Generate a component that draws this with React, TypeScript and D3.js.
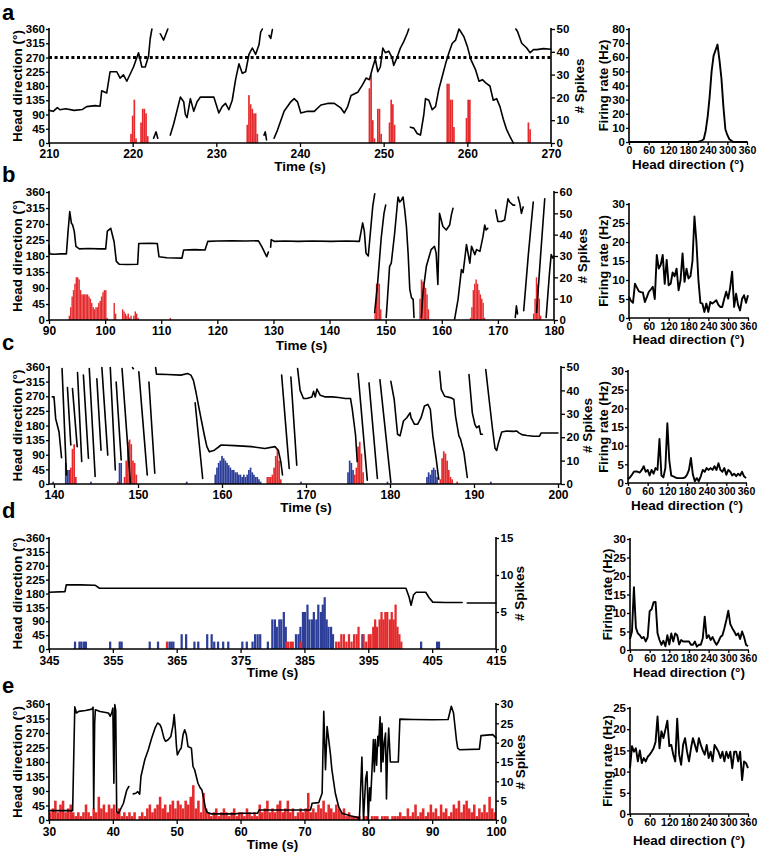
import React, { useEffect, useRef } from "react";
import * as d3 from "d3";

type P = [number, number] | null;

const FONT = "'Liberation Sans', Arial, Helvetica, sans-serif";
const RED = "#e42a2c";
const BLUE = "#2d3e99";

const hdTicks = [0, 45, 90, 135, 180, 225, 270, 315, 360];
const tuningDegTicks = [0, 60, 120, 180, 240, 300, 360];
const tuningStep = 6;

// ---------- Panel a ----------
const hdA: P[] = [
  [210, 103], [210.5, 100], [211, 112], [211.3, 105], [212, 108], [213, 103], [214, 106], [214.5, 115], [215.5, 118], [216.1, 116],
  [216.3, 165], [216.9, 158], [217.3, 225], [218.1, 225], [218.5, 205], [218.9, 215], [219.3, 195], [220.1, 240], [220.7, 285],
  [221.1, 240], [221.5, 240], [221.9, 275], [222.1, 330], [222.3, 360], null,
  [222.5, 15], [222.8, 35], [223, 15], null,
  [223.3, 345], [223.7, 325], [224.2, 360], null,
  [224.5, 25], [224.9, 60], [225.7, 145], [226.1, 130], [226.3, 90], [226.5, 80], [226.9, 140], [227.3, 100], [227.7, 130], [228.1, 145],
  [228.9, 145], [229.7, 145], [230.3, 95], [230.7, 115], [231.1, 125], [231.5, 105], [231.9, 135], [232.3, 200], [232.7, 250], [233.1, 220],
  [233.5, 225], [233.9, 280], [234.3, 300], [234.7, 280], [235.1, 310], [235.3, 350], [235.5, 360], null,
  [235.7, 25], [235.85, 35], [236, 10], null,
  [236.3, 340], [236.5, 330], [236.7, 358], null,
  [236.9, 15], [237.3, 40], [238.1, 100], [238.9, 130], [239.3, 140], [239.7, 130], [240.1, 95], [240.9, 100], [241.7, 100], [242.5, 120],
  [243.3, 125], [244.1, 125], [244.9, 110], [245.3, 95], [245.7, 115], [246.1, 150], [246.9, 160], [247.5, 185], [247.9, 205], [248.3, 200],
  [248.7, 240], [249.0, 265], [249.3, 225], [249.6, 240], [249.9, 300], [250.2, 285], [250.6, 290], [251, 270], [251.2, 245], [251.6, 270],
  [252, 300], [252.4, 320], [252.8, 345], [253, 360], null,
  [253.2, 50], [253.6, 47], [254, 30], [254.4, 25], [254.8, 90], [255, 140], [255.4, 135], [255.8, 105], [256.2, 115], [256.6, 170],
  [257, 210], [257.4, 250], [257.8, 285], [258.2, 315], [258.6, 325], [259, 360], [259.2, 352], [259.6, 335], [260, 305], [260.4, 265],
  [261, 230], [261.4, 195], [261.8, 200], [262.2, 190], [262.7, 180], [263.1, 135], [263.5, 140], [263.9, 115], [264.3, 75], [264.7, 42],
  [265.1, 20], [265.5, 0], null,
  [265.8, 360], [266, 352], [266.5, 315], [267.1, 300], [267.5, 285], [267.9, 295], [268.3, 295], [269.1, 298], [270, 296],
];
const spikesA: [number, number][] = [
  [219.7, 4], [219.9, 12], [220.1, 19], [220.3, 2], [220.9, 9], [221.1, 15], [221.3, 15], [221.5, 13], [221.7, 3],
  [233.6, 8], [233.8, 21], [234.0, 17], [234.2, 15], [234.4, 13], [234.6, 13], [234.8, 4],
  [248.2, 24], [248.4, 30], [248.6, 10], [248.8, 2], [249.2, 15], [249.4, 15], [249.6, 4],
  [250.6, 9], [250.8, 19], [251.0, 17], [251.2, 8],
  [257.5, 26], [257.7, 26], [257.9, 19], [258.1, 19], [258.3, 7],
  [259.8, 11], [260.0, 19], [260.2, 19], [267.2, 9], [267.4, 6],
];
const tuningA = [
  0, 0, 0, 0, 0, 0, 0, 0, 0, 0, 0, 0, 0, 0, 0, 0, 0, 0, 0, 0, 0, 0, 0, 0, 0, 0, 0, 0, 0, 0, 0, 0, 0, 0, 0, 0,
  0.5, 1, 2, 8, 18, 32, 50, 61, 65, 69, 58, 45, 25, 9, 5, 2, 1, 0, 0, 0, 0, 0, 0, 0, 0,
];

// ---------- Panel b ----------
const hdB: P[] = [
  [90, 210], [90.1, 186], [91, 185], [92, 186], [93.1, 186], [93.4, 250], [93.7, 305], [94, 272], [94.2, 268], [94.5, 250], [94.8, 207],
  [95.4, 200], [97, 201], [99, 200], [100.1, 200], [100.4, 250], [101, 258], [101.6, 220], [102, 165], [102.5, 157], [104, 156],
  [105.8, 157], [106, 215], [108, 216], [109.3, 215], [109.6, 178], [111, 175], [113.7, 174], [114, 197], [116, 198], [117.8, 197],
  [118.3, 221], [120, 222], [122.6, 223], [125, 222], [127.3, 223], [127.9, 207], [128.8, 178], [129.1, 191], null,
  [129.5, 205], [129.6, 226], [130.2, 221], [132, 222], [134.4, 221], [137, 222], [140.3, 221], [143, 222], [145.3, 221],
  [145.9, 273], [146.2, 249], [146.5, 188], [146.9, 180], [147.3, 250], [147.7, 320], [148.05, 355], null,
  [148.04, 21], [148.6, 110], [149.2, 230], [149.7, 300], [150, 323], null,
  [150.1, 7], [150.7, 151], [151, 160], [151.6, 244], [152.2, 346], [152.5, 332], [152.8, 337], [153.1, 346], [153.4, 309], [153.7, 263],
  [154, 188], [154.3, 86], [154.6, 63], [154.9, 58], [155.05, 7], null,
  [156.36, 7], [156.65, 77], [157.25, 151], [158.1, 198], [158.7, 207], [159, 188], [159.3, 100], [159.6, 300], [160.2, 263], [160.8, 253],
  [161.4, 267], [161.7, 295], [162, 314], null,
  [162.3, 3], [162.9, 58], [163.5, 142], [163.8, 133], [164.4, 212], [165, 160], [165.3, 207], [165.9, 184], [166.2, 198], [166.8, 193],
  [167.35, 235], [167.65, 267], [167.9, 253], [168.2, 258], null,
  [169.6, 309], [170, 277], [170.6, 277], [171.2, 281], [171.8, 341], [172.1, 332], [172.7, 323], [173, 323], null,
  [173.1, 7], [173.3, 40], [173.5, 17], null,
  [173.6, 346], [173.9, 328], [174.2, 300], [174.5, 318], null,
  [174.6, 26], [175.4, 179], [176.3, 332], null,
  [176.9, 21], [177.6, 179], [178.35, 341], null,
  [178.6, 7], [179.2, 133], [179.5, 184], [179.8, 174], [180, 179],
];
const spikesB: [number, number][] = [
  [93.5, 2], [93.75, 6], [94.0, 11], [94.25, 14], [94.5, 17], [94.75, 20], [95.0, 20], [95.25, 19], [95.5, 14], [95.75, 12],
  [96.0, 12], [96.25, 12], [96.5, 12], [96.75, 12], [97.0, 11], [97.25, 10], [97.5, 8], [97.75, 6], [98.0, 5], [98.25, 6],
  [98.5, 6], [98.75, 8], [99.0, 9], [99.25, 11], [99.5, 13], [99.75, 14], [100.0, 14], [100.25, 1],
  [101.5, 8], [101.75, 3], [103.0, 5], [103.25, 4], [103.5, 3], [103.75, 2], [104.0, 3], [104.25, 1], [104.5, 2],
  [105.0, 2], [105.25, 4], [105.5, 3], [105.75, 1], [111.5, 1],
  [148.0, 4], [148.25, 17], [148.5, 17], [148.75, 17], [149.0, 5],
  [156.0, 10], [156.25, 19], [156.5, 18], [156.75, 16], [157.0, 15], [157.25, 12], [157.5, 5],
  [165.0, 1], [165.25, 6], [165.5, 14], [165.75, 17], [166.0, 19], [166.25, 17], [166.5, 14], [166.75, 12], [167.0, 10], [167.25, 8], [167.5, 1],
  [176.25, 3], [176.5, 10], [176.75, 20], [177.0, 17], [177.25, 10], [177.5, 2],
];
const tuningB = [
  5.6, 4.5, 4, 9, 8, 7, 6.8, 6.7, 4.2, 5.5, 6.9, 7.5, 8.2, 5, 16.6, 13, 14, 16.6, 9, 15.3,
  8.6, 9, 12, 11, 13, 7.3, 10, 17, 9.5, 13, 10.4, 11, 15, 26.7, 20, 10, 4, 3.8, 1.6, 3.8,
  1.6, 4.2, 3.8, 4.2, 4.7, 3.5, 2.9, 2.9, 5, 6.9, 5.1, 8, 12.2, 2.9, 6.4, 3.4, 2, 5, 6, 4, 6,
];

// ---------- Panel c ----------
const hdC: P[] = [
  [139.8, 268], [140.0, 268], [140.2, 201], [140.4, 181], [140.6, 160], [140.75, 120], [140.9, 81], null,
  [140.96, 355], [141.48, 28], null,
  [141.6, 297], [142, 120], null,
  [142.2, 294], [142.76, 115], null,
  [142.8, 343], [143.3, 69], null,
  [143.5, 335], [144.1, 79], null,
  [144.2, 355], [144.9, 23], null,
  [145.1, 324], [145.6, 104], null,
  [145.7, 358], [146.4, 89], null,
  [146.7, 358], [147.3, 43], null,
  [147.4, 314], [148, 74], null,
  [148.1, 355], [149.1, 2], null,
  [149.35, 358], [149.45, 355], null,
  [150.1, 345], [151.1, 28], null,
  [151.3, 314], [152, 33], null,
  [152.1, 358], [152.2, 338], [153.5, 337], [155.1, 335], [155.9, 340], [156.3, 335], [156.6, 319], [156.9, 283], [157.2, 242],
  [157.5, 202], [157.9, 150], [158.2, 115], [158.5, 99], [159.1, 104], [159.9, 120], [161.5, 118], [163.5, 115], [165.1, 109],
  [166.3, 115], [166.7, 104], [167, 69], [167.2, 28], null,
  [156.8, 250], [157.7, 17], null,
  [167.1, 335], [168, 48], null,
  [168.2, 329], [168.9, 58], null,
  [169, 355], [169.3, 288], [169.7, 263], [170.1, 263], [170.7, 268], [170.9, 285], [171.1, 268], [171.3, 292], [171.7, 273],
  [172.3, 268], [173.1, 268], [173.9, 266], [174.7, 263], [175.3, 263], [175.5, 232], [175.7, 191], [175.9, 150], [176.1, 69], null,
  [176.2, 340], [177.3, 12], null,
  [177.5, 311], [178.5, 17], null,
  [178.8, 321], [180.1, 5], null,
  [180.1, 316], [180.5, 260], [180.9, 153], [181.2, 148], [181.6, 194], [182, 204], [182.4, 219], [182.5, 204], [182.9, 184],
  [183.3, 184], [183.7, 204], [184.1, 240], [184.5, 245], [184.8, 230], [185.1, 148], [185.5, 77], [185.8, 15], null,
  [185.9, 347], [186.1, 291], [186.5, 270], [187.3, 265], [187.6, 260], [187.8, 209], [188.2, 148], [188.4, 138], [188.8, 97], [189.2, 20], null,
  [189.4, 337], [189.8, 219], [190.1, 184], [190.3, 173], [190.6, 179], [190.8, 153], [191, 153], null,
  [191.4, 352], [191.8, 260], [192.2, 170], [192.5, 110], [192.7, 103], [192.9, 125], [193.3, 160], [193.9, 163], [194.7, 162],
  [195.1, 163], [195.3, 158], [195.7, 152], [196.3, 149], [197.1, 147], [197.8, 147], [198, 157], [198.6, 157], [200, 157],
];
const spikesCBlue: [number, number][] = [
  [139.8, 1], [141.3, 9], [141.5, 6], [141.7, 6], [144.3, 1], [147.7, 9], [147.9, 9], [155.7, 1],
  [159.1, 4], [159.3, 7], [159.5, 9], [159.7, 10], [159.9, 12], [160.1, 11], [160.3, 10], [160.5, 9], [160.7, 8], [160.9, 7],
  [161.1, 6], [161.3, 6], [161.5, 5], [161.7, 5], [161.9, 4], [162.1, 4], [162.3, 3], [162.5, 4], [162.7, 3], [162.9, 4],
  [163.1, 6], [163.3, 7], [163.5, 5], [163.7, 4], [163.9, 3], [164.1, 3], [164.3, 2], [164.5, 1],
  [169.3, 1], [174.9, 5], [175.1, 10], [175.3, 9], [175.5, 6], [179.6, 1],
  [184.3, 3], [184.5, 5], [184.7, 4], [184.9, 6], [185.1, 7], [185.3, 6], [185.5, 3], [191.9, 1],
];
const spikesCRed: [number, number][] = [
  [141.9, 7], [142.1, 15], [142.3, 17], [142.5, 3], [147.5, 1],
  [148.3, 3], [148.5, 10], [148.7, 18], [148.9, 19], [149.1, 17], [149.3, 10], [149.5, 9], [149.7, 4],
  [165.3, 3], [165.5, 3], [165.7, 3], [165.9, 4], [166.1, 7], [166.3, 12], [166.5, 15], [166.7, 10], [166.9, 2],
  [175.7, 4], [175.9, 7], [176.1, 16], [176.3, 18], [176.5, 13], [176.7, 5],
  [185.9, 2], [186.1, 11], [186.3, 14], [186.5, 13], [186.7, 10], [186.9, 6], [187.1, 3], [187.3, 2], [187.9, 1],
];
const tuningC = [
  1, 1.5, 2.2, 3, 3.1, 3, 2.8, 3.5, 4.5, 3, 3.5, 2, 3.5, 2.5, 4, 3.5, 11.8, 2, 1.5, 4,
  16, 6, 2, 1.8, 1.5, 1.3, 1.3, 1.3, 1.3, 1.5, 2.2, 3.5, 6.7, 2.2, 0.5, 1.3, 0.5, 1.8, 3.5, 3,
  4, 3.5, 4, 3.5, 4.5, 3.5, 5.3, 3.5, 3, 4, 2.2, 3.5, 3, 2, 2.5, 1.8, 2.5, 2, 3, 1.8, 1.3,
];

// ---------- Panel d ----------
const hdD: P[] = [
  [345, 184], [347.5, 186], [347.7, 208], [350, 208], [352.2, 207], [352.9, 197], [360, 197], [370, 197], [380, 197], [390, 197],
  [400.9, 197], [401.4, 168], [401.7, 142], [402.1, 176], [402.5, 184], [404, 184], [404.5, 167], [405.1, 152], [407, 151],
  [409.7, 151], null, [410.5, 149], [413, 149], [415, 149],
];
const spikesDBlue: [number, number][] = [
  [348.9, 1], [349.6, 1], [349.9, 1], [350.3, 1], [350.6, 1], [354.4, 1], [355.9, 1], [356.2, 1], [360.6, 1], [361.9, 1],
  [363.7, 1], [364.0, 1], [364.3, 1], [365.6, 2], [366.3, 2], [367.6, 1], [368.2, 1], [369.6, 2], [370.3, 2], [370.7, 1],
  [371.3, 1], [372.1, 1], [372.9, 1], [375.1, 1], [375.8, 1], [376.7, 1], [377.1, 2], [377.5, 2], [377.9, 2], [379.1, 1],
  [379.8, 4], [380.2, 4], [380.5, 3], [380.9, 4], [381.2, 4], [381.6, 5], [381.9, 3], [383.5, 2], [383.9, 2], [384.2, 3],
  [384.6, 5], [384.9, 5], [385.3, 6], [385.6, 4], [386.0, 4], [386.3, 5], [386.7, 4], [387.0, 6], [387.4, 5], [387.7, 6],
  [388.0, 7], [388.3, 4], [388.6, 3], [389.0, 3], [389.3, 2], [393.9, 2], [403.1, 1], [405.6, 1], [405.9, 1],
];
const spikesDRed: [number, number][] = [
  [363.3, 1], [382.0, 1], [382.3, 1], [382.7, 1], [383.0, 1], [384.3, 1], [389.8, 1], [390.2, 1], [390.6, 2], [391.0, 2],
  [391.4, 1], [391.8, 2], [392.2, 1], [392.6, 2], [393.0, 2], [393.3, 3], [394.1, 2], [394.5, 1], [394.9, 2], [395.2, 2],
  [395.6, 3], [395.9, 4], [396.2, 3], [396.6, 4], [396.9, 5], [397.2, 4], [397.5, 5], [397.8, 5], [398.2, 4], [398.5, 5],
  [398.8, 4], [399.1, 6], [399.4, 3], [399.7, 2], [400.0, 1],
];
const tuningD = [
  3, 5, 17, 6, 4.5, 4, 3.2, 3.5, 2.3, 3.5, 10.5, 11, 12.9, 13, 4.5, 2.7, 1.4, 2.5, 1, 4,
  1.5, 4.5, 2.3, 4.5, 4, 1.5, 2.7, 2.3, 2.3, 2.3, 2.3, 1.4, 1.4, 2.3, 0.9, 1.4, 1.4, 3.2, 9, 3.2,
  4, 2.7, 3.5, 2.3, 1.4, 2.3, 3.5, 4, 5.9, 8.1, 10.6, 7, 5.9, 5, 4, 4.5, 3, 5, 3.5, 1.4, 1,
];

// ---------- Panel e ----------
const hdE: P[] = [
  [30, 29], [33.7, 29], [34.04, 351], [34.3, 332], [34.67, 337], [35.7, 340], [36.74, 344], [36.9, 350], [37, 36], [37.15, 300],
  [37.26, 342], [38, 337], [39.3, 332], [39.6, 322], [39.85, 335], [40, 347], [40.16, 114], [40.3, 358], [40.45, 340], [40.6, 26],
  [40.9, 21], [41.15, 31], [41.66, 52], [42.18, 93], [42.5, 104], null,
  [43.2, 81], [43.6, 83], [43.9, 88], [44.2, 80], [44.4, 135], [45, 187], [45.55, 218], [46.07, 254], [46.6, 285], [47, 301],
  [47.37, 296], [47.6, 286], [48, 254], [48.25, 244], [48.66, 249], [49.08, 259], [49.44, 296], [49.6, 327], [49.8, 280], [49.96, 228],
  [50.1, 202], [50.5, 218], [50.7, 223], [51, 265], [51.25, 280], [51.5, 265], [51.77, 228], [52.3, 223], [52.55, 166], [52.8, 156],
  [53.07, 135], [53.33, 114], [53.7, 99], [53.95, 93], [54.26, 62], [54.5, 36], [54.8, 23], [55.4, 19], [59, 19], [60.1, 21],
  [62.66, 21], [62.9, 31], [66, 31], [70.95, 31], [71.2, 52], [72.25, 54], [72.77, 83], [73.03, 337], [73.3, 156], [73.55, 290],
  [74.06, 207], [74.3, 156], [74.84, 83], [75.36, 41], [75.88, 21], [77.17, 13], [78.4, 8], [78.6, 0], [79.0, 195], [79.25, 0],
  [79.6, 130], [79.8, 150], [80.0, 0], [80.2, 100], [80.35, 60], [80.55, 140], [80.8, 250], [80.95, 150], [81.1, 250], [81.3, 170],
  [81.5, 260], [81.6, 230], [81.85, 320], [82.0, 150], [82.15, 300], [82.3, 180], [82.5, 240], [82.7, 270], [82.85, 65], [83.0, 200],
  [83.2, 285], [83.45, 180], [84.7, 180], [84.95, 313], [87, 312], [90, 311], [92.5, 312], [93, 353], [93.35, 332], [93.8, 249],
  [94, 223], [94.3, 218], [97.4, 220], [97.65, 262], [99.5, 265], [100, 255],
];
const spikesEStart = 30;
const spikesEBin = 0.4;
const spikesECounts = [
  2, 3, 5, 2, 4, 5, 2, 3, 4, 2, 1, 2, 1, 2, 4, 2, 1, 3, 2, 6,
  3, 4, 2, 4, 3, 4, 2, 3, 1, 2, 1, 2, 1, 2, 0, 1, 2, 1, 3, 4,
  2, 3, 4, 6, 3, 4, 2, 4, 5, 3, 5, 4, 3, 5, 4, 6, 9, 3, 5, 2,
  7, 3, 2, 1, 2, 3, 1, 2, 3, 2, 1, 2, 3, 1, 2, 2, 1, 3, 2, 1,
  2, 1, 4, 2, 3, 5, 2, 3, 2, 4, 5, 2, 3, 5, 2, 3, 1, 2, 3, 2,
  3, 7, 2, 3, 2, 4, 3, 5, 2, 4, 3, 2, 4, 3, 2, 3, 1, 2, 1, 1,
  1, 1, 0, 1, 1, 0, 1, 1, 1, 0, 1, 1, 1, 0, 1, 1, 1, 2, 1, 1,
  3, 1, 2, 4, 1, 2, 3, 1, 2, 4, 2, 3, 1, 4, 2, 3, 1, 2, 4, 3,
  5, 2, 4, 5, 3, 2, 4, 1, 3, 2, 4, 2, 6, 3, 2,
];
const tuningE = [
  10.8, 16, 14.7, 15.5, 12.4, 15, 12, 13.2, 12.4, 13.5, 14, 14.7, 15.5, 17, 23, 15.5, 19.5, 17.9, 19.9, 22,
  16, 16.3, 14, 12.4, 22.5, 14, 11.6, 16.3, 17.9, 14.7, 12.4, 15.5, 17.9, 16.3, 14.7, 17.9, 16.3, 15, 14, 16.3,
  13.2, 14.7, 12.4, 16.3, 15.5, 14.7, 13.2, 14.7, 12.4, 14.7, 13.2, 14.7, 10.8, 14.7, 14.7, 12.4, 14.7, 8, 12.4, 12, 10.8,
];

const spikesE: [number, number][] = spikesECounts.map((c, i) => [spikesEStart + i * spikesEBin, c]);

const panels = [
  {
    letter: "a", letterY: 20, hd: hdA, red: spikesA, blue: null as any, binW: 0.2,
    tDomain: [210, 270], tTicks: [210, 220, 230, 240, 250, 260, 270], xRange: [49, 551], axX: [49, 551],
    yTop: 29, yBot: 143, spikeMax: 50, spikeTicks: [0, 10, 20, 30, 40, 50], timeY: 171, spikesTitleX: 584, dotted: 270,
    tuning: tuningA, tMax: 80, tYTicks: [0, 10, 20, 30, 40, 50, 60, 70, 80], tX: [629, 747], tY: [29, 142], tTitleY: 169, firingX: 608,
    rTick: 4, bPad: 2.5,
  },
  {
    letter: "b", letterY: 182, hd: hdB, red: spikesB, blue: null as any, binW: 0.25,
    tDomain: [90, 180], tTicks: [90, 100, 110, 120, 130, 140, 150, 160, 170, 180], xRange: [49, 554], axX: [49, 554],
    yTop: 192, yBot: 320, spikeMax: 60, spikeTicks: [0, 10, 20, 30, 40, 50, 60], timeY: 350, spikesTitleX: 587, dotted: null as any,
    tuning: tuningB, tMax: 30, tYTicks: [0, 5, 10, 15, 20, 25, 30], tX: [629, 748], tY: [204, 318], tTitleY: 344, firingX: 608,
    rTick: 4, bPad: 2.5,
  },
  {
    letter: "c", letterY: 350, hd: hdC, red: spikesCRed, blue: spikesCBlue, binW: 0.2,
    tDomain: [140, 200], tTicks: [140, 150, 160, 170, 180, 190, 200], xRange: [54, 558], axX: [49, 561],
    yTop: 367, yBot: 484, spikeMax: 50, spikeTicks: [0, 10, 20, 30, 40, 50], timeY: 512, spikesTitleX: 592, dotted: null as any,
    tuning: tuningC, tMax: 30, tYTicks: [0, 5, 10, 15, 20, 25, 30], tX: [628, 746], tY: [371, 483], tTitleY: 510, firingX: 608,
    rTick: 4, bPad: 2.5,
  },
  {
    letter: "d", letterY: 518, hd: hdD, red: spikesDRed, blue: spikesDBlue, binW: 0.35,
    tDomain: [345, 415], tTicks: [345, 355, 365, 375, 385, 395, 405, 415], xRange: [49, 496], axX: [49, 496],
    yTop: 538, yBot: 649, spikeMax: 15, spikeTicks: [0, 5, 10, 15], timeY: 677, spikesTitleX: 524, dotted: null as any,
    tuning: tuningD, tMax: 30, tYTicks: [0, 5, 10, 15, 20, 25, 30], tX: [630, 748], tY: [539, 650], tTitleY: 677, firingX: 612,
    rTick: 3, bPad: 3,
  },
  {
    letter: "e", letterY: 693, hd: hdE, red: spikesE, blue: null as any, binW: 0.4,
    tDomain: [30, 100], tTicks: [30, 40, 50, 60, 70, 80, 90, 100], xRange: [49, 496], axX: [49, 496],
    yTop: 704, yBot: 820, spikeMax: 30, spikeTicks: [0, 5, 10, 15, 20, 25, 30], timeY: 849, spikesTitleX: 525, dotted: null as any,
    tuning: tuningE, tMax: 25, tYTicks: [0, 5, 10, 15, 20, 25], tX: [630, 748], tY: [708, 814], tTitleY: 845, firingX: 612,
    rTick: 3, bPad: 3,
  },
];

function axisStyle(sel: any, fs: number) {
  sel.attr("font-family", FONT).attr("font-size", fs).attr("font-weight", "bold");
  sel.select(".domain").remove();
  sel.selectAll(".tick line").attr("stroke", "#000").attr("stroke-width", 1.3);
  sel.selectAll(".tick text").attr("fill", "#000");
}

function drawPanel(svg: any, p: any) {
  const g = svg.append("g");
  const x = d3.scaleLinear().domain(p.tDomain).range(p.xRange);
  const yH = d3.scaleLinear().domain([0, 360]).range([p.yBot, p.yTop]);
  const yS = d3.scaleLinear().domain([0, p.spikeMax]).range([p.yBot, p.yTop]);

  const drawBars = (data: [number, number][], color: string) =>
    g.append("g").selectAll("rect").data(data.filter((d) => d[1] > 0)).join("rect")
      .attr("x", (d: any) => x(d[0]))
      .attr("width", (d: any) => Math.max(0.8, x(d[0] + p.binW) - x(d[0])))
      .attr("y", (d: any) => yS(d[1]))
      .attr("height", (d: any) => p.yBot - yS(d[1]))
      .attr("fill", color);
  if (p.blue) drawBars(p.blue, BLUE);
  if (p.red) drawBars(p.red, RED);

  if (p.dotted != null) {
    g.append("line").attr("x1", p.axX[0]).attr("x2", p.axX[1]).attr("y1", yH(p.dotted)).attr("y2", yH(p.dotted))
      .attr("stroke", "#000").attr("stroke-width", 3).attr("stroke-dasharray", "3,2.6");
  }

  const line = d3.line<P>().defined((d) => d !== null).x((d) => x((d as any)[0])).y((d) => yH((d as any)[1]));
  g.append("path").datum(p.hd).attr("d", line).attr("fill", "none").attr("stroke", "#000")
    .attr("stroke-width", 1.6).attr("stroke-linejoin", "round").attr("stroke-linecap", "round");

  // axes
  g.append("g").attr("transform", `translate(${p.axX[0]},0)`)
    .call(d3.axisLeft(yH).tickValues(hdTicks).tickSize(3).tickPadding(1)).call(axisStyle, 11.5);
  g.append("g").attr("transform", `translate(0,${p.yBot})`)
    .call(d3.axisBottom(x).tickValues(p.tTicks).tickSize(4).tickPadding(p.bPad).tickFormat(d3.format("d"))).call(axisStyle, 12);
  g.append("g").attr("transform", `translate(${p.axX[1]},0)`)
    .call(d3.axisRight(yS).tickValues(p.spikeTicks).tickSize(p.rTick).tickPadding(1.5)).call(axisStyle, 11.5);
  const dl = (x1: number, y1: number, x2: number, y2: number) =>
    g.append("line").attr("x1", x1).attr("y1", y1).attr("x2", x2).attr("y2", y2).attr("stroke", "#000").attr("stroke-width", 1.6);
  dl(p.axX[0], p.yTop - 1, p.axX[0], p.yBot);
  dl(p.axX[0], p.yBot, p.axX[1], p.yBot);
  dl(p.axX[1], p.yTop - 1, p.axX[1], p.yBot);

  const txt = (s: string, fs: number) =>
    g.append("text").attr("font-family", FONT).attr("font-weight", "bold").attr("font-size", fs).attr("fill", "#000").text(s);

  txt(p.letter, 22).attr("x", 2).attr("y", p.letterY);
  const cy = (p.yTop + p.yBot) / 2;
  txt("Head direction (°)", 13.5).attr("text-anchor", "middle").attr("transform", `translate(22,${cy}) rotate(-90)`);
  txt("# Spikes", 13.5).attr("text-anchor", "middle").attr("transform", `translate(${p.spikesTitleX},${cy}) rotate(-90)`);
  txt("Time (s)", 13.5).attr("text-anchor", "middle").attr("x", (p.xRange[0] + p.xRange[1]) / 2).attr("y", p.timeY);

  // tuning curve
  const xT = d3.scaleLinear().domain([0, 360]).range(p.tX);
  const yT = d3.scaleLinear().domain([0, p.tMax]).range([p.tY[1], p.tY[0]]);
  const tl = d3.line<number>().x((_, i) => xT(i * tuningStep)).y((d) => yT(d));
  g.append("path").datum(p.tuning).attr("d", tl).attr("fill", "none").attr("stroke", "#000")
    .attr("stroke-width", 1.9).attr("stroke-linejoin", "round");
  g.append("g").attr("transform", `translate(${p.tX[0]},0)`)
    .call(d3.axisLeft(yT).tickValues(p.tYTicks).tickSize(3).tickPadding(1)).call(axisStyle, 11.5);
  g.append("g").attr("transform", `translate(0,${p.tY[1]})`)
    .call(d3.axisBottom(xT).tickValues(tuningDegTicks).tickSize(3).tickPadding(2)).call(axisStyle, 10.5);
  dl(p.tX[0], p.tY[0] - 1, p.tX[0], p.tY[1]);
  dl(p.tX[0], p.tY[1], p.tX[1] + 1, p.tY[1]);
  txt("Firing rate (Hz)", 13).attr("text-anchor", "middle").attr("transform", `translate(${p.firingX},${(p.tY[0] + p.tY[1]) / 2}) rotate(-90)`);
  txt("Head direction (°)", 13.5).attr("text-anchor", "middle").attr("x", (p.tX[0] + p.tX[1]) / 2).attr("y", p.tTitleY);
}

export default function App() {
  const ref = useRef<SVGSVGElement>(null);
  useEffect(() => {
    const svg = d3.select(ref.current);
    svg.selectAll("*").remove();
    panels.forEach((p) => drawPanel(svg, p));
  }, []);
  return (
    <svg
      ref={ref}
      width={758}
      height={853}
      style={{ position: "absolute", left: 0, top: 0, background: "#fff" }}
    />
  );
}
